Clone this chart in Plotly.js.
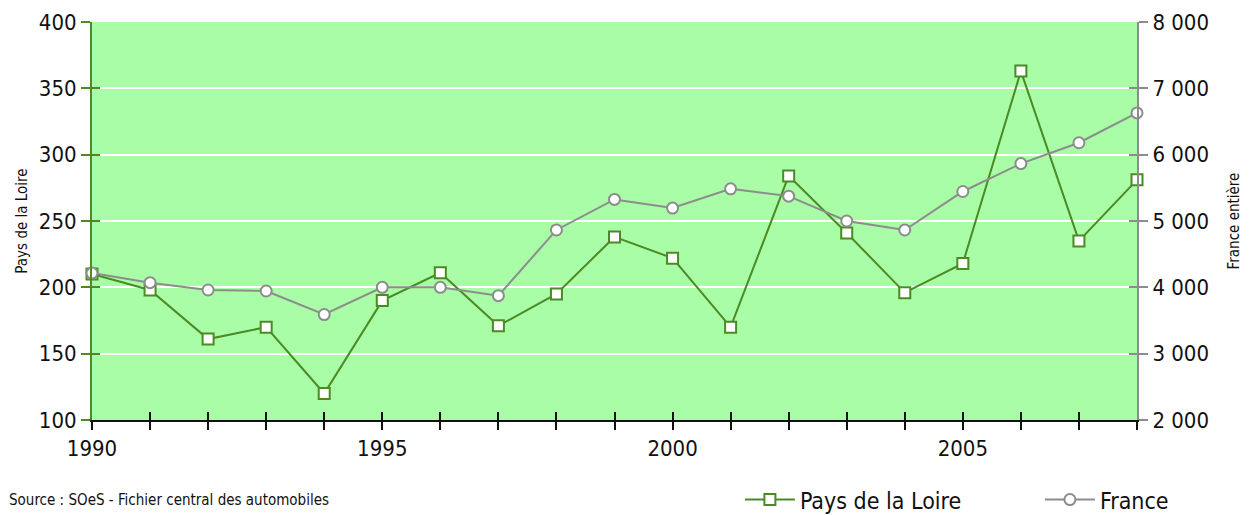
<!DOCTYPE html>
<html>
<head>
<meta charset="utf-8">
<script src="https://cdn.plot.ly/plotly-3.0.1.min.js"></script>
<style>html,body{margin:0;padding:0;background:#fff;}#chart{width:1251px;height:515px;}</style>
</head>
<body>
<div id="chart"></div>
<script>
const years = [1990,1991,1992,1993,1994,1995,1996,1997,1998,1999,2000,2001,2002,2003,2004,2005,2006,2007,2008];
const paysDeLaLoire = [210,198,161,170,120,190,211,171,195,238,222,170,284,241,196,218,363,235,281];
const france = [4215,4070,3960,3945,3590,4000,4000,3875,4865,5325,5195,5485,5375,5000,4865,5445,5865,6180,6630];
const xTickLabels = ["1990","","","","","1995","","","","","2000","","","","","2005","","",""];
const leftTicks = [100,150,200,250,300,350,400];
const rightTicks = [2000,3000,4000,5000,6000,7000,8000];
const rightTickLabels = ["2 000","3 000","4 000","5 000","6 000","7 000","8 000"];
const seriesNames = ["Pays de la Loire","France"];
const leftTitle = "Pays de la Loire";
const rightTitle = "France entière";
const sourceText = "Source : SOeS - Fichier central des automobiles";

const FONT = "'Liberation Sans Narrow', 'DejaVu Sans Condensed', 'Roboto Condensed', sans-serif";
const GREEN = "#4b8a24";
const GREY = "#8c8c8c";

const traces = [
  {x: years, y: paysDeLaLoire, name: seriesNames[0], type: "scatter", mode: "lines+markers",
   xaxis: "x", yaxis: "y", cliponaxis: false,
   line: {color: GREEN, width: 2},
   marker: {symbol: "square", size: 11, color: "#ffffff", line: {color: GREEN, width: 2}}},
  {x: years, y: france, name: seriesNames[1], type: "scatter", mode: "lines+markers",
   xaxis: "x", yaxis: "y2", cliponaxis: false,
   line: {color: GREY, width: 2},
   marker: {symbol: "circle", size: 11, color: "#ffffff", line: {color: GREY, width: 2}}},
  // helper traces (draw nothing) so that the inner-tick overlay axes are rendered
  {x: years, y: paysDeLaLoire, xaxis: "x2", yaxis: "y", type: "scatter", mode: "none", showlegend: false, hoverinfo: "skip"},
  {x: years, y: paysDeLaLoire, xaxis: "x", yaxis: "y3", type: "scatter", mode: "none", showlegend: false, hoverinfo: "skip"},
  {x: years, y: france, xaxis: "x", yaxis: "y4", type: "scatter", mode: "none", showlegend: false, hoverinfo: "skip"}
];

const layout = {
  width: 1251, height: 515,
  margin: {l: 92, r: 114, t: 22, b: 95, autoexpand: false},
  paper_bgcolor: "#ffffff",
  plot_bgcolor: "#a8fda6",
  font: {family: FONT, color: "#111111", size: 22},
  showlegend: true,
  legend: {orientation: "h", x: 0.62, xanchor: "left", y: -0.2, yanchor: "middle",
           font: {size: 23, family: FONT, color: "#111"}, bgcolor: "rgba(0,0,0,0)",
           itemwidth: 50, entrywidth: 235, entrywidthmode: "pixels", traceorder: "normal"},
  xaxis: {range: [1990, 2008], tickvals: years, ticktext: xTickLabels,
          ticks: "outside", ticklen: 8, tickwidth: 2, tickcolor: "#111",
          showline: true, linecolor: "#111", linewidth: 2, showgrid: false, zeroline: false,
          tickfont: {size: 22}, fixedrange: true},
  xaxis2: {range: [1990, 2008], overlaying: "x", anchor: "y", side: "bottom", tickvals: years,
           ticks: "inside", ticklen: 8, tickwidth: 2, tickcolor: "#111",
           showticklabels: false, showline: false, showgrid: false, zeroline: false},
  yaxis: {range: [100, 400], tickvals: leftTicks, ticks: "outside", ticklen: 9, tickwidth: 2, tickcolor: GREEN,
          showline: true, linecolor: GREEN, linewidth: 2, showgrid: true, gridcolor: "#ffffff", gridwidth: 2,
          zeroline: false, tickfont: {size: 22},
          title: {text: leftTitle, font: {size: 15}, standoff: 8}},
  yaxis2: {range: [2000, 8000], overlaying: "y", side: "right", anchor: "x", tickvals: rightTicks, ticktext: rightTickLabels,
           ticks: "outside", ticklen: 9, tickwidth: 2, tickcolor: GREY,
           showline: true, linecolor: GREY, linewidth: 2, showgrid: false, zeroline: false,
           tickfont: {size: 22}, title: {text: rightTitle, font: {size: 15}, standoff: 20}},
  yaxis3: {range: [100, 400], overlaying: "y", side: "left", anchor: "x", tickvals: leftTicks,
           ticks: "inside", ticklen: 8, tickwidth: 2, tickcolor: GREEN,
           showticklabels: false, showline: false, showgrid: false, zeroline: false},
  yaxis4: {range: [2000, 8000], overlaying: "y", side: "right", anchor: "x", tickvals: rightTicks,
           ticks: "inside", ticklen: 8, tickwidth: 2, tickcolor: GREY,
           showticklabels: false, showline: false, showgrid: false, zeroline: false},
  annotations: [
    {text: sourceText, xref: "paper", yref: "paper", x: -0.081, y: -0.2, xanchor: "left", yanchor: "middle",
     showarrow: false, font: {size: 15, family: FONT, color: "#111"}}
  ]
};

Plotly.newPlot("chart", traces, layout, {staticPlot: true, displayModeBar: false});
</script>
</body>
</html>
